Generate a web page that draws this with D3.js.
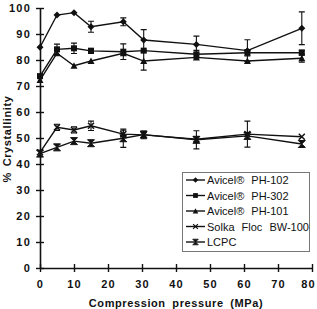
<!DOCTYPE html>
<html>
<head>
<meta charset="utf-8">
<script src="https://cdn.jsdelivr.net/npm/d3@7"></script>
<style>
body { margin: 0; background: #fff; }
text { font-family: "Liberation Sans", Arial, sans-serif; fill: #111; }
</style>
</head>
<body>
<div id="chart"></div>
<script>
// pressure (MPa)
var pressure = [0, 5, 10, 15, 24.5, 30.5, 46, 61, 77];
// % crystallinity per material
var ph102 = [84.9, 97.3, 98.2, 92.8, 94.7, 87.7, 86.0, 83.6, 92.2];
var ph302 = [73.8, 84.1, 84.5, 83.5, 83.2, 83.6, 82.2, 82.8, 82.8];
var ph101 = [72.3, 82.6, 77.8, 79.6, 82.6, 79.6, 81.0, 79.6, 80.7];
var solka = [44.5, 54.1, 53.1, 54.7, 51.5, 51.2, 49.5, 51.5, 50.5];
var lcpc  = [44.0, 46.4, 48.8, 48.0, 49.9, 51.3, 49.3, 50.8, 47.7];
// error bars (+/-)
var ph102Err = [0, 0, 0, 2.1, 1.5, 4.0, 3.2, 4.2, 6.3];
var ph302Err = [0, 2.0, 2.0, 1.0, 3.0, 0, 1.5, 1.2, 1.0];
var ph101Err = [0, 0, 0, 0, 0, 3.5, 0, 0, 1.5];
var solkaErr = [0, 1.2, 1.2, 1.8, 1.5, 1.5, 0, 5.0, 0];
var lcpcErr  = [0, 0, 0, 0, 3.5, 0, 3.5, 0, 0];

var seriesNames = ["Avicel\u00AE PH-102", "Avicel\u00AE PH-302", "Avicel\u00AE PH-101", "Solka Floc BW-100", "LCPC"];
var xTicks = [0, 10, 20, 30, 40, 50, 60, 70, 80];
var yTicks = [0, 10, 20, 30, 40, 50, 60, 70, 80, 90, 100];

var width = 317;
var height = 309;

var svg = d3.select("#chart")
	.append("svg")
	.attr("width", width)
	.attr("height", height);

var xScale = d3.scaleLinear().domain([0, 80]).range([40, 312]);
var yScale = d3.scaleLinear().domain([0, 100]).range([268, 8]);

// 坐标轴
var axisX = d3.axisBottom(xScale).tickValues(xTicks).tickSize(0).tickPadding(12);
var axisY = d3.axisLeft(yScale).tickValues(yTicks).tickSize(0).tickPadding(10);

var gx = svg.append("g")
	.attr("transform", "translate(0," + yScale(0) + ")")
	.call(axisX);
var gy = svg.append("g")
	.attr("transform", "translate(" + xScale(0) + ",0)")
	.call(axisY);

[gx, gy].forEach(function(g) {
	g.select(".domain").attr("stroke", "#111").attr("stroke-width", 1.6);
	g.selectAll("text")
		.style("font-size", "11px")
		.style("font-weight", "bold")
		.style("letter-spacing", "1.2px")
		.attr("fill", "#222");
});
// ticks crossing the axis
gx.selectAll(".tick").append("line")
	.attr("y1", -4).attr("y2", 4)
	.attr("stroke", "#111").attr("stroke-width", 1.4);
gy.selectAll(".tick").append("line")
	.attr("x1", -4).attr("x2", 4)
	.attr("stroke", "#111").attr("stroke-width", 1.4);
gy.selectAll(".tick text").attr("x", -9);
gx.selectAll(".tick text").filter(function(d) { return d == 80; }).attr("dx", -4);

// axis titles
svg.append("text")
	.attr("x", 176).attr("y", 307)
	.attr("text-anchor", "middle")
	.style("font-size", "11px")
	.style("font-weight", "bold")
	.style("letter-spacing", "0.6px")
	.style("word-spacing", "3px")
	.text("Compression pressure (MPa)");
svg.append("text")
	.attr("transform", "translate(11,139) rotate(-90)")
	.attr("text-anchor", "middle")
	.style("font-size", "11px")
	.style("font-weight", "bold")
	.style("letter-spacing", "0.6px")
	.style("word-spacing", "2px")
	.text("% Crystallinity");

// marker shapes
function marker(g, kind) {
	if (kind == 0) {
		g.append("path").attr("d", "M0,-3.5L3.5,0L0,3.5L-3.5,0Z").attr("fill", "#111");
	} else if (kind == 1) {
		g.append("rect").attr("x", -3).attr("y", -3).attr("width", 6).attr("height", 6).attr("fill", "#111");
	} else if (kind == 2) {
		g.append("path").attr("d", "M0,-3.5L3.5,3L-3.5,3Z").attr("fill", "#111");
	} else if (kind == 3) {
		g.append("path").attr("d", "M-3,-3L3,3M3,-3L-3,3")
			.attr("stroke", "#111").attr("stroke-width", 1.5).attr("fill", "none");
	} else {
		g.append("path").attr("d", "M-3.5,-3.5H3.5L0,0L3.5,3.5H-3.5L0,0Z")
			.attr("fill", "#111").attr("stroke", "#111").attr("stroke-width", 1);
	}
}

var allSeries = [ph102, ph302, ph101, solka, lcpc];
var allErr = [ph102Err, ph302Err, ph101Err, solkaErr, lcpcErr];

var line = d3.line()
	.x(function(d, i) { return xScale(pressure[i]); })
	.y(function(d) { return yScale(d); });

allSeries.forEach(function(vals, s) {
	var g = svg.append("g");
	g.append("path")
		.attr("d", line(vals))
		.attr("fill", "none")
		.attr("stroke", "#111")
		.attr("stroke-width", 1.4);
	// 误差线
	vals.forEach(function(v, i) {
		var e = allErr[s][i];
		if (!e) return;
		var x = xScale(pressure[i]);
		g.append("path")
			.attr("d", "M" + x + "," + yScale(v + e) + "V" + yScale(v - e) +
				"M" + (x - 3) + "," + yScale(v + e) + "H" + (x + 3) +
				"M" + (x - 3) + "," + yScale(v - e) + "H" + (x + 3))
			.attr("stroke", "#111").attr("stroke-width", 1.1).attr("fill", "none");
	});
	vals.forEach(function(v, i) {
		var m = g.append("g")
			.attr("transform", "translate(" + xScale(pressure[i]) + "," + yScale(v) + ")");
		marker(m, s);
	});
});

// legend
var legend = svg.append("g");
legend.append("rect")
	.attr("x", 182.5).attr("y", 172.5)
	.attr("width", 127).attr("height", 79)
	.attr("fill", "#fff").attr("stroke", "#777").attr("stroke-width", 1);
seriesNames.forEach(function(name, i) {
	var y = 180 + i * 15.5;
	legend.append("line")
		.attr("x1", 186).attr("x2", 205)
		.attr("y1", y).attr("y2", y)
		.attr("stroke", "#111").attr("stroke-width", 1.4);
	var m = legend.append("g").attr("transform", "translate(195.5," + y + ") scale(0.8)");
	marker(m, i);
	legend.append("text")
		.attr("x", 207).attr("y", y + 4)
		.style("font-size", "11px")
		.style("word-spacing", "4px")
		.text(name);
});
</script>
</body>
</html>
